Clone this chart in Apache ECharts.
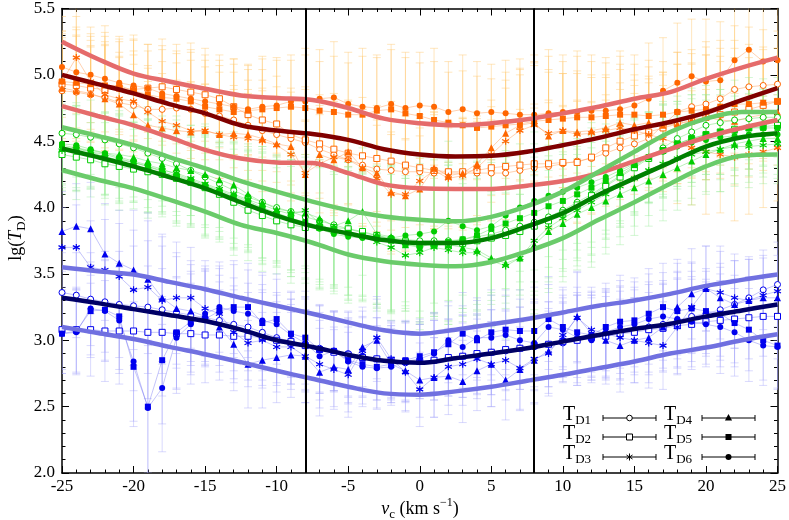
<!DOCTYPE html>
<html>
<head>
<meta charset="utf-8">
<script src="https://cdn.jsdelivr.net/npm/echarts@6/dist/echarts.min.js"></script>
<style>
  html, body { margin: 0; padding: 0; background: #fff; }
  #main { width: 789px; height: 520px; }
</style>
</head>
<body>
<div id="main"></div>
<script>
// velocity of the measured points (km/s)
var vData = [-25,-24,-23,-22,-21,-20,-19,-18,-17,-16,-15,-14,-13,-12,-11,-10,-9,-8,-7,-6,
  -5,-4,-3,-2,-1,0,1,2,3,4,5,6,7,8,9,10,11,12,13,14,15,16,17,18,19,20,21,22,23,24,25];
// velocity of the model curves (km/s)
var vCurve = [-25,-22.5,-20,-17.5,-15,-12.5,-10,-7.5,-5,-2.5,0,2.5,5,7.5,10,12.5,15,17.5,20,22.5,25];
var xTicks = [-25, -20, -15, -10, -5, 0, 5, 10, 15, 20, 25];
var yTicks = [2.0, 2.5, 3.0, 3.5, 4.0, 4.5, 5.0, 5.5];
var markV = [-8, 8];

// --- orange group (top) ---
var orT1 = [4.88,4.87,4.85,4.83,4.79,4.77,4.74,4.74,4.75,4.74,4.71,4.69,4.66,4.62,4.58,4.55,4.52,4.49,4.44,4.40,
  4.36,4.32,4.29,4.28,4.27,4.27,4.26,4.26,4.26,4.26,4.26,4.26,4.28,4.30,4.31,4.33,4.35,4.37,4.41,4.45,
  4.48,4.52,4.62,4.72,4.76,4.78,4.82,4.89,4.91,4.92,4.93];
var orT2 = [4.93,4.92,4.90,4.89,4.90,4.89,4.90,4.91,4.89,4.87,4.85,4.82,4.76,4.70,4.66,4.63,4.55,4.51,4.48,4.44,
  4.41,4.39,4.37,4.35,4.32,4.30,4.28,4.27,4.27,4.28,4.30,4.31,4.32,4.33,4.33,4.34,4.34,4.38,4.45,4.50,
  4.54,4.57,4.60,4.63,4.65,4.68,4.70,4.72,4.74,4.77,4.80];
var orT3 = [4.95,5.13,4.95,4.85,4.82,4.80,4.72,4.65,4.62,4.58,4.58,4.55,4.53,4.52,4.50,4.47,4.40,4.26,4.33,4.38,
  4.36,4.30,4.22,4.10,4.10,4.20,4.28,4.22,4.24,4.30,4.40,4.50,4.58,4.62,4.56,4.58,4.55,4.56,4.58,4.60,
  4.58,4.55,4.52,4.48,4.45,4.42,4.40,4.38,4.40,4.42,4.45];
var orT4 = [4.90,4.88,4.86,4.82,4.78,4.70,4.62,4.60,4.58,4.57,4.58,4.55,4.56,4.55,4.52,4.48,4.46,4.25,4.40,4.36,
  4.42,4.30,4.26,4.12,4.09,4.14,4.30,4.24,4.26,4.33,4.45,4.56,4.62,4.64,4.54,4.58,4.57,4.58,4.60,4.64,
  4.62,4.64,4.62,4.63,4.66,4.68,4.66,4.65,4.68,4.70,4.72];
var orT5 = [4.95,4.94,4.93,4.92,4.92,4.88,4.85,4.83,4.82,4.80,4.76,4.74,4.72,4.73,4.74,4.75,4.76,4.75,4.73,4.72,
  4.70,4.70,4.73,4.74,4.71,4.69,4.66,4.64,4.62,4.60,4.61,4.62,4.63,4.65,4.66,4.67,4.68,4.68,4.69,4.70,
  4.70,4.69,4.70,4.72,4.73,4.74,4.76,4.78,4.78,4.79,4.80];
var orT6 = [5.06,5.02,5.00,4.97,4.94,4.92,4.90,4.86,4.84,4.82,4.80,4.78,4.76,4.74,4.76,4.77,4.80,4.80,4.82,4.83,
  4.78,4.76,4.75,4.78,4.75,4.77,4.76,4.72,4.74,4.71,4.72,4.71,4.70,4.70,4.71,4.72,4.72,4.73,4.73,4.74,
  4.77,4.82,4.88,4.94,4.99,4.95,4.96,5.11,5.19,5.10,5.11];
var orErr = [0.38,0.42,0.36,0.40,0.35,0.38,0.33,0.36,0.34,0.37,0.35,0.33,0.36,0.34,0.38,0.36,0.35,0.40,0.37,0.42,
  0.39,0.44,0.40,0.45,0.42,0.40,0.44,0.38,0.41,0.39,0.36,0.40,0.42,0.45,0.48,0.43,0.46,0.42,0.40,0.44,
  0.38,0.42,0.40,0.45,0.43,0.47,0.44,0.48,0.45,0.42,0.40];
var orMid = [5.00,4.93,4.86,4.78,4.71,4.62,4.58,4.555,4.51,4.44,4.40,4.385,4.39,4.42,4.47,4.525,4.59,4.645,4.715,4.81,4.90];
var orHi = [5.25,5.12,5.01,4.95,4.895,4.845,4.825,4.81,4.75,4.67,4.635,4.62,4.635,4.665,4.71,4.76,4.82,4.87,4.97,5.055,5.13];
var orLo = [4.765,4.69,4.62,4.53,4.435,4.37,4.34,4.335,4.26,4.175,4.145,4.14,4.14,4.165,4.20,4.26,4.35,4.44,4.53,4.60,4.66];

// --- green group (middle) ---
var grT1 = [4.56,4.55,4.53,4.51,4.48,4.45,4.41,4.37,4.33,4.28,4.23,4.18,4.13,4.08,4.04,4.00,3.97,3.93,3.90,3.87,
  3.84,3.81,3.79,3.77,3.76,3.75,3.75,3.75,3.76,3.78,3.80,3.83,3.86,3.89,3.93,3.98,4.04,4.10,4.17,4.24,
  4.31,4.38,4.45,4.52,4.57,4.62,4.64,4.66,4.67,4.68,4.68];
var grT2 = [4.40,4.38,4.36,4.33,4.31,4.29,4.27,4.25,4.22,4.19,4.15,4.10,4.04,3.98,3.94,3.90,3.87,3.85,3.85,3.85,
  3.84,3.82,3.79,3.76,3.74,3.72,3.72,3.72,3.73,3.75,3.77,3.79,3.82,3.86,3.90,3.96,4.02,4.09,4.16,4.23,
  4.30,4.37,4.43,4.48,4.52,4.55,4.57,4.59,4.60,4.61,4.62];
var grT3 = [4.43,4.44,4.42,4.38,4.36,4.34,4.31,4.28,4.26,4.22,4.18,4.14,4.10,4.06,4.02,3.98,3.95,3.98,3.88,3.82,
  3.80,3.78,3.74,3.70,3.64,3.66,3.70,3.68,3.66,3.66,3.60,3.56,3.62,3.75,3.85,3.92,3.98,4.04,4.10,4.16,
  4.22,4.28,4.33,4.37,4.40,4.42,4.44,4.46,4.46,4.47,4.48];
var grT4 = [4.45,4.45,4.43,4.41,4.40,4.38,4.35,4.33,4.30,4.28,4.25,4.21,4.17,4.10,4.04,3.99,3.97,3.96,3.92,3.86,
  3.90,3.97,3.80,3.78,3.72,3.70,3.74,3.72,3.70,3.68,3.62,3.58,3.62,3.72,3.82,3.88,3.95,4.00,4.05,4.10,
  4.15,4.20,4.25,4.30,4.35,4.40,4.44,4.48,4.50,4.52,4.52];
var grT5 = [4.47,4.45,4.42,4.40,4.37,4.34,4.31,4.27,4.24,4.20,4.16,4.12,4.08,4.04,3.99,3.95,3.92,3.89,3.86,3.84,
  3.81,3.79,3.77,3.75,3.72,3.71,3.72,3.74,3.76,3.79,3.84,3.88,3.92,3.96,4.01,4.05,4.10,4.15,4.20,4.26,
  4.32,4.38,4.43,4.48,4.52,4.55,4.57,4.58,4.60,4.60,4.60];
var grT6 = [4.48,4.47,4.44,4.41,4.38,4.35,4.32,4.29,4.25,4.21,4.17,4.13,4.09,4.05,4.00,3.96,3.92,3.88,3.84,3.80,
  3.78,3.77,3.76,3.77,3.79,3.80,3.82,3.90,3.86,3.83,3.86,3.94,4.00,4.05,4.09,4.12,4.15,4.19,4.23,4.28,
  4.33,4.38,4.42,4.46,4.49,4.51,4.53,4.54,4.55,4.55,4.55];
var grErr = [0.30,0.32,0.28,0.31,0.33,0.30,0.35,0.32,0.36,0.34,0.38,0.36,0.40,0.38,0.42,0.40,0.44,0.42,0.46,0.45,
  0.50,0.48,0.52,0.55,0.50,0.58,0.54,0.60,0.52,0.56,0.50,0.55,0.48,0.52,0.46,0.44,0.42,0.45,0.40,0.38,
  0.36,0.34,0.35,0.32,0.33,0.30,0.32,0.30,0.31,0.29,0.30];
var grMid = [4.445,4.38,4.31,4.23,4.145,4.04,3.94,3.86,3.805,3.755,3.733,3.733,3.77,3.858,3.958,4.096,4.22,4.34,4.46,4.53,4.56];
var grHi = [4.605,4.54,4.47,4.38,4.295,4.20,4.12,4.045,3.98,3.933,3.908,3.896,3.93,4.01,4.12,4.27,4.42,4.57,4.67,4.72,4.72];
var grLo = [4.283,4.21,4.145,4.06,3.97,3.87,3.808,3.735,3.646,3.596,3.57,3.558,3.59,3.67,3.77,3.908,4.04,4.18,4.31,4.39,4.40];

// --- blue group (bottom) ---
var blT1 = [3.36,3.34,3.31,3.29,3.27,3.26,3.25,3.23,3.21,3.19,3.17,3.15,3.12,3.10,3.06,3.02,2.99,2.97,2.94,2.92,
  2.90,2.88,2.86,2.84,2.83,2.84,2.85,2.87,2.88,2.89,2.91,2.92,2.94,2.95,2.97,2.98,3.00,3.02,3.04,3.06,
  3.08,3.10,3.12,3.15,3.18,3.20,3.23,3.27,3.32,3.38,3.42];
var blT2 = [3.08,3.08,3.08,3.07,3.07,3.07,3.06,3.06,3.05,3.05,3.04,3.04,3.03,3.03,3.02,3.00,2.99,2.96,2.93,2.91,
  2.89,2.87,2.86,2.85,2.84,2.84,2.85,2.87,2.88,2.90,2.91,2.93,2.94,2.96,2.97,2.99,3.00,3.02,3.03,3.05,
  3.06,3.08,3.09,3.11,3.12,3.14,3.15,3.16,3.17,3.18,3.18];
var blT3 = [3.70,3.70,3.55,3.53,3.48,3.38,3.40,3.30,3.32,3.32,3.24,3.20,3.06,2.98,3.00,2.95,2.95,2.88,2.82,2.78,
  2.74,2.92,3.02,2.86,2.76,2.63,2.72,2.80,2.82,2.86,2.82,2.85,2.79,2.86,2.90,3.04,3.17,3.08,3.05,3.02,
  3.00,2.98,2.96,3.10,3.25,3.39,3.36,3.32,3.30,3.34,3.37];
var blT4 = [3.82,3.86,3.84,3.65,3.58,3.53,3.46,3.32,3.24,3.22,3.18,3.10,2.97,2.82,2.85,2.87,2.89,2.88,2.76,2.80,
  2.78,2.95,3.00,2.82,2.77,2.70,2.72,2.73,2.69,2.77,2.82,2.70,2.78,2.85,2.92,3.02,3.18,3.05,3.00,2.96,
  3.00,3.02,3.10,3.25,3.35,3.39,3.32,3.27,3.30,3.32,3.32];
var blT5 = [3.05,3.07,3.22,3.23,3.18,2.80,2.50,2.85,3.06,3.14,3.16,3.22,3.25,3.25,3.13,3.16,3.05,3.02,2.93,2.92,
  2.85,2.82,2.80,2.82,2.85,2.88,2.91,2.97,3.05,3.00,3.06,3.08,3.07,3.07,3.16,3.10,3.06,3.04,3.10,3.14,
  3.15,3.20,3.25,3.22,3.24,3.22,3.20,3.13,3.08,3.00,2.96];
var blT6 = [3.05,3.06,3.24,3.22,3.15,2.84,2.49,2.64,3.02,3.12,3.20,3.25,3.22,3.20,3.15,3.12,3.04,2.98,2.88,2.92,
  2.84,2.80,2.79,2.80,2.84,2.86,2.90,3.00,2.95,3.02,3.02,3.04,3.00,2.98,3.10,3.08,3.02,3.00,3.06,3.10,
  3.12,3.16,3.18,3.16,3.14,3.12,3.10,3.06,3.00,2.96,2.95];
var blErr = [0.30,0.32,0.35,0.38,0.40,0.45,0.50,0.48,0.42,0.38,0.36,0.34,0.35,0.33,0.36,0.34,0.32,0.35,0.33,0.30,
  0.32,0.30,0.31,0.29,0.30,0.28,0.30,0.29,0.31,0.30,0.32,0.30,0.31,0.33,0.32,0.30,0.34,0.32,0.33,0.35,
  0.32,0.34,0.33,0.36,0.34,0.32,0.35,0.33,0.31,0.30,0.32];
var blMid = [3.32,3.28,3.235,3.19,3.145,3.08,3.00,2.95,2.89,2.845,2.83,2.865,2.90,2.94,2.99,3.04,3.085,3.125,3.18,3.225,3.27];
var blHi = [3.55,3.52,3.495,3.44,3.385,3.32,3.26,3.20,3.135,3.075,3.05,3.08,3.12,3.16,3.21,3.26,3.30,3.35,3.41,3.455,3.495];
var blLo = [3.10,3.055,3.01,2.95,2.895,2.835,2.77,2.71,2.65,2.60,2.59,2.615,2.65,2.695,2.74,2.79,2.84,2.90,2.945,3.00,3.045];

var serif = 'Liberation Serif';
var starPath = 'path://M5,0L5,10M0.7,2.5L9.3,7.5M0.7,7.5L9.3,2.5';

// marker look of T_D1 ... T_D6
var markers = [
  { symbol: 'circle', size: 6, open: true },
  { symbol: 'rect', size: 6, open: true },
  { symbol: starPath, size: 7, open: false, stroke: true },
  { symbol: 'triangle', size: 7, open: false },
  { symbol: 'rect', size: 6, open: false },
  { symbol: 'circle', size: 6, open: false }
];

var groups = [
  { sets: [orT1, orT2, orT3, orT4, orT5, orT6], err: orErr, color: '#ff6600', line: 'rgba(255,140,60,0.5)',
    errColor: 'rgba(255,200,110,0.45)', mid: orMid, hi: orHi, lo: orLo, midColor: '#800000', bandColor: '#e56b6b' },
  { sets: [grT1, grT2, grT3, grT4, grT5, grT6], err: grErr, color: '#00cc00', line: 'rgba(60,210,60,0.45)',
    errColor: 'rgba(150,235,150,0.4)', mid: grMid, hi: grHi, lo: grLo, midColor: '#008000', bandColor: '#6acb6a' },
  { sets: [blT1, blT2, blT3, blT4, blT5, blT6], err: blErr, color: '#0000ee', line: 'rgba(90,90,240,0.45)',
    errColor: 'rgba(160,160,250,0.4)', mid: blMid, hi: blHi, lo: blLo, midColor: '#000066', bandColor: '#7070e0' }
];

function pairs(xs, ys) {
  return xs.map(function (x, i) { return [x, ys[i]]; });
}

function errorBar(color) {
  return function (params, api) {
    var x = api.value(0), y = api.value(1), e = api.value(2);
    var top = api.coord([x, y + e]);
    var bot = api.coord([x, y - e]);
    var st = { stroke: color, lineWidth: 1 };
    return {
      type: 'group',
      children: [
        { type: 'line', shape: { x1: top[0], y1: top[1], x2: bot[0], y2: bot[1] }, style: st },
        { type: 'line', shape: { x1: top[0] - 4, y1: top[1], x2: top[0] + 4, y2: top[1] }, style: st },
        { type: 'line', shape: { x1: bot[0] - 4, y1: bot[1], x2: bot[0] + 4, y2: bot[1] }, style: st }
      ]
    };
  };
}

var series = [];
groups.forEach(function (g) {
  g.sets.forEach(function (vals) {
    series.push({
      type: 'custom', renderItem: errorBar(g.errColor), clip: true, silent: true, z: 1,
      data: vData.map(function (v, i) { return [v, vals[i], g.err[i]]; })
    });
  });
});
groups.forEach(function (g) {
  g.sets.forEach(function (vals, k) {
    var m = markers[k];
    series.push({
      type: 'line', data: pairs(vData, vals), symbol: m.symbol, symbolSize: m.size,
      showAllSymbol: true, clip: true, silent: true, z: 2,
      lineStyle: { color: g.line, width: 0.8 },
      itemStyle: m.open ? { color: '#fff', borderColor: g.color, borderWidth: 1 }
        : (m.stroke ? { color: g.color, borderColor: g.color, borderWidth: 1.2 } : { color: g.color, borderWidth: 0 })
    });
  });
});
groups.forEach(function (g) {
  [g.hi, g.lo].forEach(function (band) {
    series.push({
      type: 'line', data: pairs(vCurve, band), symbol: 'none', smooth: 0.35, silent: true, z: 3,
      lineStyle: { color: g.bandColor, width: 4.5 }
    });
  });
  series.push({
    type: 'line', data: pairs(vCurve, g.mid), symbol: 'none', smooth: 0.35, silent: true, z: 4,
    lineStyle: { color: g.midColor, width: 4.5 }
  });
});
// the two vertical markers
series.push({
  type: 'line', data: [], z: 5,
  markLine: {
    silent: true, symbol: 'none', label: { show: false },
    lineStyle: { color: '#000', width: 2, type: 'solid' },
    data: markV.map(function (v) { return { xAxis: v }; })
  }
});

var axisBase = {
  axisLine: { show: true, onZero: false, lineStyle: { color: '#000', width: 1.5 } },
  axisTick: { show: true, inside: true, length: 7, lineStyle: { color: '#000' } },
  minorTick: { show: true, splitNumber: 5, length: 3.5, lineStyle: { color: '#000' } },
  splitLine: { show: false }
};
var tickRich = { a: { fontFamily: serif, fontSize: 17, color: '#000' } };

function xAxis(pos, labels) {
  return Object.assign({}, axisBase, {
    type: 'value', position: pos, min: xTicks[0], max: xTicks[xTicks.length - 1], interval: 5,
    axisLabel: { show: labels, margin: 5, rich: tickRich,
      formatter: function (v) { return '{a|' + v + '}'; } }
  });
}
function yAxis(pos, labels) {
  return Object.assign({}, axisBase, {
    type: 'value', position: pos, min: yTicks[0], max: yTicks[yTicks.length - 1], interval: 0.5,
    axisLabel: { show: labels, margin: 7, rich: tickRich,
      formatter: function (v) { return '{a|' + v.toFixed(1) + '}'; } }
  });
}

// legend drawn by hand: label, horizontal error bar and marker
var legendItems = [];
var subRich = {
  t: { fontFamily: serif, fontSize: 20, lineHeight: 24, fill: '#000' },
  i: { fontFamily: serif, fontSize: 18, fontStyle: 'italic', lineHeight: 24, fill: '#000' },
  n: { fontFamily: serif, fontSize: 18, lineHeight: 24, fill: '#000' },
  s: { fontFamily: serif, fontSize: 13, lineHeight: 10, verticalAlign: 'bottom', fill: '#000' },
  p: { fontFamily: serif, fontSize: 12, lineHeight: 10, verticalAlign: 'top', fill: '#000' }
};
var legRows = [418, 437, 457];
var legCols = [{ tx: 563, x1: 603, x2: 656 }, { tx: 664, x1: 702, x2: 755 }];
for (var k = 0; k < 6; k++) {
  var col = legCols[Math.floor(k / 3)];
  var y = legRows[k % 3];
  var cx = (col.x1 + col.x2) / 2;
  var ls = { stroke: '#000', lineWidth: 1 };
  legendItems.push({ type: 'text', left: col.tx, top: y - 13, z: 20,
    style: { text: '{t|T}{s|D' + (k + 1) + '}', rich: subRich } });
  legendItems.push({ type: 'line', z: 20, shape: { x1: col.x1, y1: y, x2: col.x2, y2: y }, style: ls });
  legendItems.push({ type: 'line', z: 20, shape: { x1: col.x1, y1: y - 3, x2: col.x1, y2: y + 3 }, style: ls });
  legendItems.push({ type: 'line', z: 20, shape: { x1: col.x2, y1: y - 3, x2: col.x2, y2: y + 3 }, style: ls });
  if (k === 0) legendItems.push({ type: 'circle', z: 21, shape: { cx: cx, cy: y, r: 2.8 }, style: { fill: '#fff', stroke: '#000', lineWidth: 1 } });
  if (k === 1) legendItems.push({ type: 'rect', z: 21, shape: { x: cx - 3, y: y - 3, width: 6, height: 6 }, style: { fill: '#fff', stroke: '#000', lineWidth: 1 } });
  if (k === 2) legendItems.push({ type: 'polyline', z: 21, shape: { points: [[cx, y - 3.5], [cx, y + 3.5]] }, style: ls },
    { type: 'polyline', z: 21, shape: { points: [[cx - 3, y - 2], [cx + 3, y + 2]] }, style: ls },
    { type: 'polyline', z: 21, shape: { points: [[cx - 3, y + 2], [cx + 3, y - 2]] }, style: ls });
  if (k === 3) legendItems.push({ type: 'polygon', z: 21, shape: { points: [[cx, y - 4], [cx - 3.6, y + 2.5], [cx + 3.6, y + 2.5]] }, style: { fill: '#000' } });
  if (k === 4) legendItems.push({ type: 'rect', z: 21, shape: { x: cx - 3, y: y - 3, width: 6, height: 6 }, style: { fill: '#000' } });
  if (k === 5) legendItems.push({ type: 'circle', z: 21, shape: { cx: cx, cy: y, r: 3 }, style: { fill: '#000' } });
}

var chart = echarts.init(document.getElementById('main'), null, { renderer: 'canvas' });
chart.setOption({
  animation: false,
  backgroundColor: '#fff',
  textStyle: { fontFamily: serif },
  grid: { left: 62, right: 11, top: 6, bottom: 47 },
  xAxis: [xAxis('bottom', true), xAxis('top', false)],
  yAxis: [yAxis('left', true), yAxis('right', false)],
  series: series,
  graphic: legendItems.concat([
    { type: 'text', x: 420, y: 497, z: 20,
      style: { text: '{i|v}{s|c}{n| (km s}{p|−1}{n|)}', rich: subRich, align: 'center' } },
    { type: 'text', x: 4, y: 238, rotation: Math.PI / 2, z: 20,
      style: { text: '{n|lg(}{i|T}{s|D}{n|)}', rich: subRich, align: 'center' } }
  ])
});
</script>
</body>
</html>
